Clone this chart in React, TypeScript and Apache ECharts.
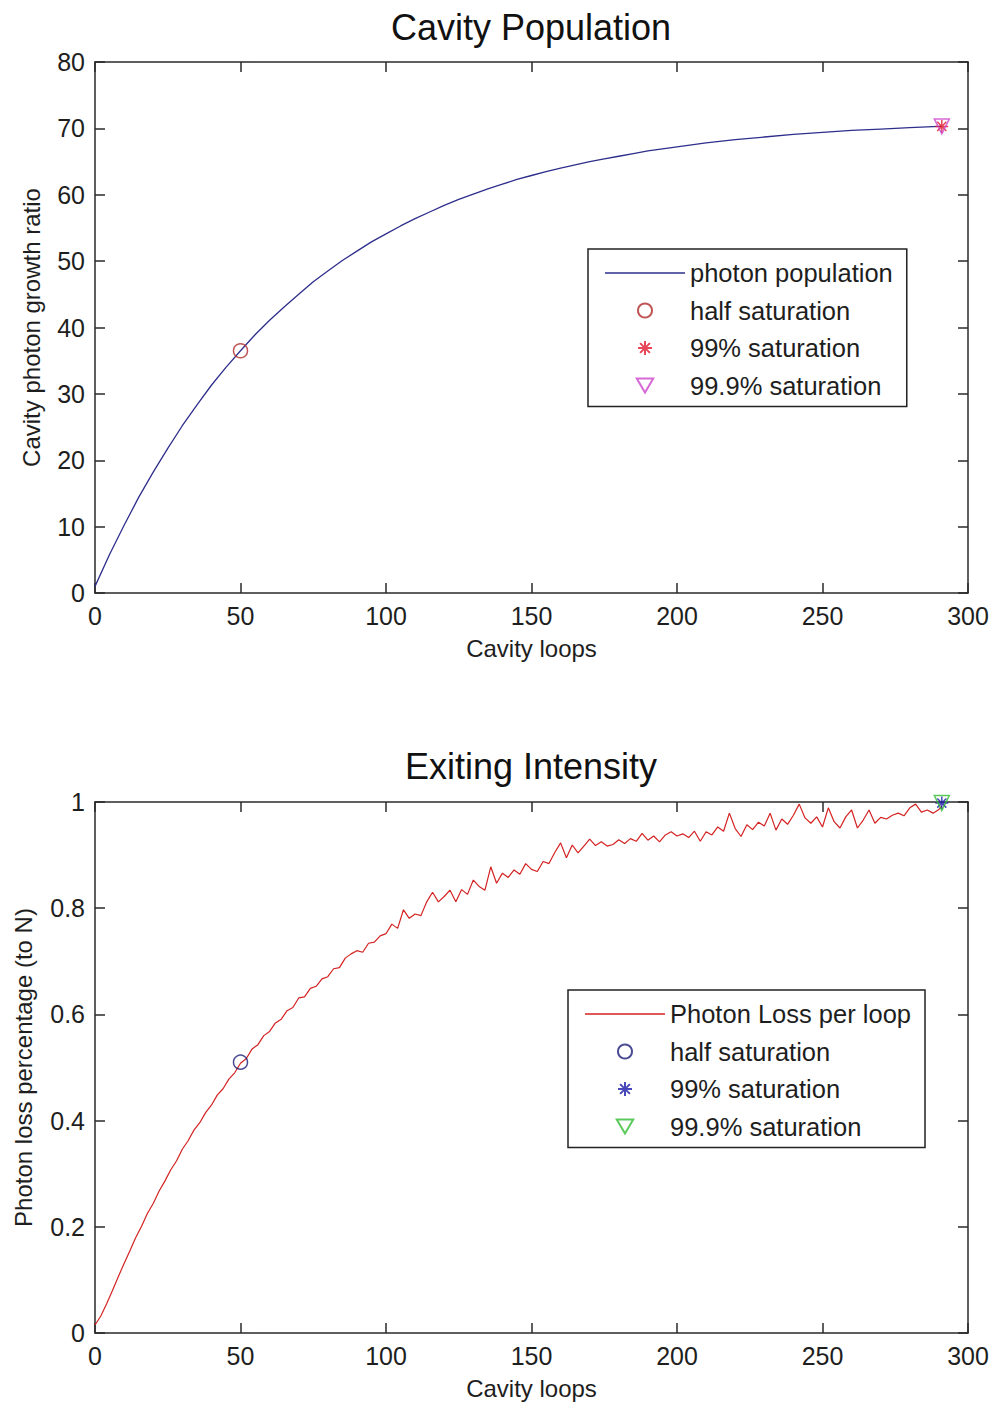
import React, { useEffect, useRef } from "react";
import * as echarts from "echarts";

// ---------- data ----------
const X_MIN = 0;
const X_MAX = 300;
const X_INTERVAL = 50;

// Top plot: cavity photon growth ratio
const POP_LOOPS = [0, 5, 10, 15, 20, 25, 30, 35, 40, 45, 50, 55, 60, 65, 70, 75, 80, 85, 90, 95, 100, 105, 110, 115, 120, 125, 130, 135, 140, 145, 150, 155, 160, 165, 170, 175, 180, 185, 190, 195, 200, 210, 220, 230, 240, 250, 260, 270, 280, 290, 291];
const POP_VALUES = [1.0, 5.8, 10.2, 14.4, 18.2, 21.8, 25.2, 28.3, 31.3, 34.0, 36.5, 38.9, 41.1, 43.1, 45.0, 46.9, 48.5, 50.1, 51.5, 52.9, 54.1, 55.3, 56.4, 57.4, 58.4, 59.3, 60.1, 60.9, 61.6, 62.3, 62.9, 63.5, 64.0, 64.5, 65.0, 65.4, 65.8, 66.2, 66.6, 66.9, 67.2, 67.8, 68.3, 68.7, 69.1, 69.4, 69.7, 69.9, 70.1, 70.3, 70.3];
const POP_Y_MAX = 80;
const POP_Y_INTERVAL = 10;

// Bottom plot: photon loss per loop, read every 2 loops (0..290), last point at 291
const LOSS_VALUES = [
  0.015, 0.032, 0.055, 0.080, 0.106, 0.131, 0.155, 0.180, 0.201, 0.225,
  0.244, 0.267, 0.286, 0.307, 0.324, 0.346, 0.362, 0.382, 0.396, 0.415,
  0.429, 0.448, 0.460, 0.478, 0.490, 0.508,
  0.517, 0.535, 0.543, 0.560, 0.568, 0.584, 0.591, 0.607, 0.613, 0.631,
  0.633, 0.649, 0.653, 0.667, 0.671, 0.686, 0.688, 0.706, 0.714, 0.720,
  0.717, 0.734, 0.736, 0.748, 0.752,
  0.770, 0.762, 0.797, 0.781, 0.789, 0.786, 0.812, 0.830, 0.812, 0.822,
  0.834, 0.812, 0.835, 0.826, 0.853, 0.841, 0.834, 0.878, 0.847, 0.866,
  0.858, 0.872, 0.864, 0.884, 0.873,
  0.869, 0.888, 0.884, 0.905, 0.923, 0.895, 0.919, 0.904, 0.917, 0.930,
  0.918, 0.925, 0.917, 0.920, 0.929, 0.922, 0.931, 0.926, 0.941, 0.928,
  0.936, 0.925, 0.938, 0.944, 0.936,
  0.940, 0.933, 0.945, 0.926, 0.944, 0.938, 0.953, 0.945, 0.979, 0.950,
  0.935, 0.957, 0.948, 0.962, 0.955, 0.979, 0.947, 0.968, 0.958, 0.975,
  0.996, 0.970, 0.960, 0.972, 0.953,
  0.989, 0.963, 0.951, 0.972, 0.985, 0.951, 0.966, 0.985, 0.960, 0.971,
  0.968, 0.975, 0.979, 0.974, 0.989, 0.996, 0.981, 0.985, 0.979, 0.986,
  0.992,
];
const LOSS_STEP = 2;
const LOSS_LAST_LOOP = 291;
const LOSS_Y_MAX = 1;
const LOSS_Y_INTERVAL = 0.2;

// Saturation markers
const HALF_LOOP = 50;
const SAT_LOOP = 291;
const POP_HALF = 36.5;
const POP_SAT = 70.3;
const LOSS_HALF = 0.51;
const LOSS_SAT = 0.998;

// ---------- styles ----------
const FONT = '"Liberation Sans", Arial, Helvetica, sans-serif';
const AXIS_COLOR = "#2a2a2a";
const TEXT_COLOR = "#1e1e1e";

const ASTERISK = "path://M10,0L10,20M0,10L20,10M3,3L17,17M3,17L17,3";
const TRI_DOWN = "path://M0,0L20,0L10,17Z";
const LINE_ICON = "path://M0,0L80,0L80,1.4L0,1.4Z";

function axisPair(min: number, max: number, interval: number, dir: "x" | "y", name: string, nameGap: number) {
  const lineStyle = { color: AXIS_COLOR, width: 1.5 };
  const main = {
    type: "value",
    min,
    max,
    interval,
    position: dir === "x" ? "bottom" : "left",
    axisLine: { show: true, onZero: false, lineStyle },
    axisTick: { show: true, inside: true, length: 10, lineStyle },
    axisLabel: { show: true, fontSize: 25, color: TEXT_COLOR, fontFamily: FONT, margin: 10 },
    splitLine: { show: false },
    name,
    nameLocation: "middle",
    nameGap,
    nameTextStyle: { fontSize: 24, color: TEXT_COLOR, fontFamily: FONT },
  };
  const mirror = {
    type: "value",
    min,
    max,
    interval,
    position: dir === "x" ? "top" : "right",
    axisLine: { show: true, onZero: false, lineStyle },
    axisTick: { show: true, inside: true, length: 10, lineStyle },
    axisLabel: { show: false },
    splitLine: { show: false },
  };
  return [main, mirror];
}

function markerSeries(name: string, symbol: string, size: number, color: string, x: number, y: number) {
  return {
    name,
    type: "scatter",
    xAxisIndex: 0,
    yAxisIndex: 0,
    symbol,
    symbolSize: size,
    itemStyle: { color: "rgba(0,0,0,0)", borderColor: color, borderWidth: 1.5 },
    data: [[x, y]],
    z: 5,
  };
}

function legendOpt(left: number, top: number, lineName: string, lineColor: string, names: string[]) {
  return {
    orient: "vertical",
    left,
    top,
    itemWidth: 80,
    itemHeight: 14,
    itemGap: 9.5,
    padding: [10, 14, 7, 17],
    borderColor: "#222",
    borderWidth: 1.5,
    backgroundColor: "#fff",
    selectedMode: false,
    textStyle: { fontSize: 25.5, lineHeight: 28, color: TEXT_COLOR, fontFamily: FONT },
    data: [
      { name: lineName, icon: LINE_ICON, itemStyle: { color: lineColor, borderWidth: 0 } },
      ...names,
    ],
  };
}

function titleGraphic(text: string, y: number) {
  return {
    type: "text",
    x: 531,
    y,
    style: {
      text,
      fontSize: 36,
      fontFamily: FONT,
      fill: "#111",
      align: "center",
      verticalAlign: "middle",
    },
  };
}

const GRID = { left: 95, width: 873, height: 531 };
const POP_COLOR = "#2e2e8c";
const LOSS_COLOR = "#d42222";

function topOption() {
  const [x0, x1] = axisPair(X_MIN, X_MAX, X_INTERVAL, "x", "Cavity loops", 43);
  const [y0, y1] = axisPair(0, POP_Y_MAX, POP_Y_INTERVAL, "y", "Cavity photon growth ratio", 52);
  return {
    animation: false,
    backgroundColor: "#fff",
    grid: { ...GRID, top: 62 },
    xAxis: [x0, x1],
    yAxis: [y0, y1],
    graphic: [titleGraphic("Cavity Population", 27)],
    legend: legendOpt(588, 249, "photon population", POP_COLOR, ["half saturation", "99% saturation", "99.9% saturation"]),
    series: [
      {
        name: "photon population",
        type: "line",
        symbol: "none",
        smooth: false,
        color: POP_COLOR,
        lineStyle: { color: POP_COLOR, width: 1.3 },
        data: POP_LOOPS.map((x, i) => [x, POP_VALUES[i]]),
        z: 3,
      },
      markerSeries("half saturation", "circle", 14, "#b02a2a", HALF_LOOP, POP_HALF),
      markerSeries("99% saturation", ASTERISK, 13, "#e0182a", SAT_LOOP, POP_SAT),
      markerSeries("99.9% saturation", TRI_DOWN, 15, "#cc44cc", SAT_LOOP, POP_SAT),
    ],
  };
}

function bottomOption() {
  const [x0, x1] = axisPair(X_MIN, X_MAX, X_INTERVAL, "x", "Cavity loops", 43);
  const [y0, y1] = axisPair(0, LOSS_Y_MAX, LOSS_Y_INTERVAL, "y", "Photon loss percentage (to N)", 60);
  const last = LOSS_VALUES.length - 1;
  return {
    animation: false,
    backgroundColor: "#fff",
    grid: { ...GRID, top: 97 },
    xAxis: [x0, x1],
    yAxis: [y0, y1],
    graphic: [titleGraphic("Exiting Intensity", 61)],
    legend: legendOpt(568, 285, "Photon Loss per loop", LOSS_COLOR, ["half saturation", "99% saturation", "99.9% saturation"]),
    series: [
      {
        name: "Photon Loss per loop",
        type: "line",
        symbol: "none",
        color: LOSS_COLOR,
        lineStyle: { color: LOSS_COLOR, width: 1.2 },
        data: LOSS_VALUES.map((v, i) => [i === last ? LOSS_LAST_LOOP : i * LOSS_STEP, v]),
        z: 3,
      },
      markerSeries("half saturation", "circle", 14, "#1e1e78", HALF_LOOP, LOSS_HALF),
      markerSeries("99% saturation", ASTERISK, 13, "#1a1aa8", SAT_LOOP, LOSS_SAT),
      markerSeries("99.9% saturation", TRI_DOWN, 15, "#33bb33", SAT_LOOP, LOSS_SAT),
    ],
  };
}

function Chart({ top, option }: { top: number; option: any }) {
  const ref = useRef<HTMLDivElement>(null);
  useEffect(() => {
    if (!ref.current) return;
    const chart = echarts.init(ref.current, undefined, { renderer: "svg" });
    chart.setOption(option);
    return () => chart.dispose();
  }, []);
  return (
    <div
      ref={ref}
      style={{ position: "absolute", left: 0, top, width: 994, height: 705, background: "#fff" }}
    />
  );
}

export default function App() {
  return (
    <div style={{ position: "absolute", left: 0, top: 0, width: 994, height: 1410, background: "#fff" }}>
      <Chart top={0} option={topOption()} />
      <Chart top={705} option={bottomOption()} />
    </div>
  );
}
